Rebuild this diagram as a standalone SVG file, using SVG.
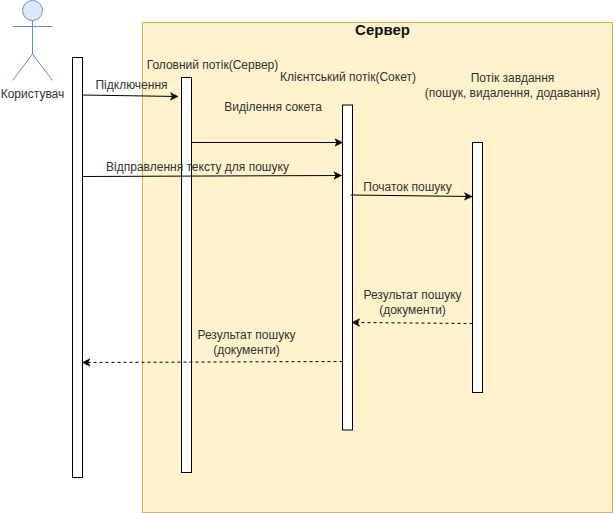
<svg xmlns="http://www.w3.org/2000/svg" width="613" height="513" viewBox="0 0 613 513">
<style>
text{font-family:"Liberation Sans",Arial,sans-serif;font-size:12px;fill:#333;text-anchor:middle}
.bar{fill:#fff;stroke:#000;stroke-width:1}
.c{fill:none;stroke:#000;stroke-width:1;marker-end:url(#a)}
.d{stroke-dasharray:3 3}
.act{fill:none;stroke:#6c8ebf;stroke-width:1}
</style>
<defs><marker id="a" markerUnits="userSpaceOnUse" markerWidth="9" markerHeight="9" refX="8" refY="4.5" orient="auto"><path d="M0.5 0.8L8 4.5L0.5 8.2L2.4 4.5Z" fill="#000" stroke="#000" stroke-width="0.6"/></marker></defs>
<rect width="613" height="513" fill="#fff"/>
<g id="server"><rect x="142.5" y="22.5" width="470" height="490" fill="#fff2cc" stroke="#d6b656"/>
<text x="382.500" y="35" style="font-weight:bold;font-size:15px;fill:#111">Сервер</text></g>
<g id="user"><circle cx="32.500" cy="10.500" r="10" fill="#dae8fc" stroke="#6c8ebf"/>
<path class="act" d="M32.500 20.500V54M12.500 26.500H52.500M12.500 80.500L32.500 54L52.500 80.500"/>
<text x="32.500" y="98">Користувач</text></g>
<g id="user-bar"><rect class="bar" x="72.500" y="57.500" width="10" height="420"/></g>
<g id="main"><rect class="bar" x="181.500" y="77.500" width="10" height="395"/>
<text x="212.500" y="69">Головний потік(Сервер)</text></g>
<g id="client"><rect class="bar" x="342.500" y="105" width="10" height="325"/>
<text x="348" y="81">Клієнтський потік(Сокет)</text></g>
<g id="task"><rect class="bar" x="472.500" y="142.500" width="10" height="250"/>
<text x="512.500" y="82">Потік завдання</text><text x="512.500" y="97">(пошук, видалення, додавання)</text></g>
<g id="connectors">
<path class="c" d="M82.500 95L178 96.500"/>
<path class="c" d="M191.500 142.500H342.500"/>
<path class="c" d="M82.500 176.500L341.500 175.500"/>
<path class="c" d="M350.500 195L472 196.500"/>
<path class="c d" d="M472.500 323.500L352 322.500"/>
<path class="c d" d="M342.500 361.500L82.500 362.500"/>
</g>
<g id="labels">
<text x="131.500" y="89">Підключення</text>
<text x="273" y="111">Виділення сокета</text>
<text x="197.500" y="171">Відправлення тексту для пошуку</text>
<text x="407.500" y="191">Початок пошуку</text>
<text x="412.500" y="299">Результат пошуку</text><text x="412.500" y="314">(документи)</text>
<text x="246.500" y="339">Результат пошуку</text><text x="246.500" y="354">(документи)</text>
</g>
</svg>
